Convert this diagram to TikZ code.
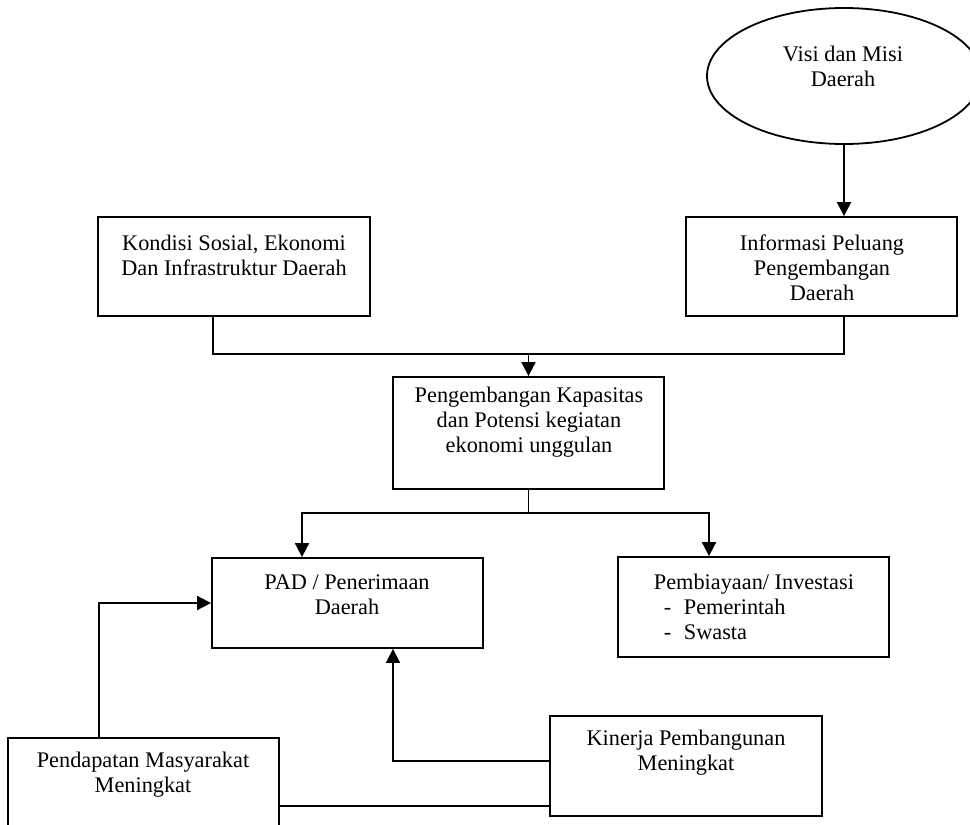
\documentclass[tikz,border=0pt]{standalone}
\usepackage{fontspec}
\setmainfont{Liberation Serif}
\usetikzlibrary{arrows.meta,shapes.geometric}
\begin{document}
\begin{tikzpicture}[x=1pt,y=-1pt,line width=1.8pt,
  box/.style={draw,rectangle,inner sep=0pt},
  oval/.style={draw,ellipse,inner sep=0pt},
  lbl/.style={align=center,font=\fontsize{22.3pt}{25pt}\selectfont,inner sep=0pt},
  arr/.style={-{Triangle[length=14pt,width=14pt]}}]
\useasboundingbox (0,0) rectangle (970,825);
\clip (0,0) rectangle (970,825);
% shapes
\node[oval,minimum width=274pt,minimum height=136pt] (visi) at (844,76) {};
\node[box,minimum width=272pt,minimum height=99pt] (kond) at (234,266.5) {};
\node[box,minimum width=271pt,minimum height=99pt] (info) at (821.5,266.5) {};
\node[box,minimum width=271pt,minimum height=112pt] (mid) at (528.5,433) {};
\node[box,minimum width=271pt,minimum height=90pt] (pad) at (347.5,603) {};
\node[box,minimum width=271pt,minimum height=100pt] (pemb) at (753.5,607) {};
\node[box,minimum width=272pt,minimum height=100pt] (kin) at (686,766) {};
\node[box,minimum width=271pt,minimum height=100pt] (pend) at (143.5,788) {};
% texts
\node[lbl] (visit) at (843,66) {Visi dan Misi\\Daerah};
\node[lbl] (kondt) at (234,255) {Kondisi Sosial, Ekonomi\\Dan Infrastruktur Daerah};
\node[lbl] (infot) at (822,268) {Informasi Peluang\\Pengembangan\\Daerah};
\node[lbl] (midt) at (529,422) {Pengembangan Kapasitas\\dan Potensi kegiatan\\ekonomi unggulan};
\node[lbl] (padt) at (347,595) {PAD / Penerimaan\\Daerah};
\node[lbl,align=left,anchor=west] (pembt) at (653,607) {Pembiayaan/ Investasi\\\hspace*{10pt}\makebox[20pt][l]{-}Pemerintah\\\hspace*{10pt}\makebox[20pt][l]{-}Swasta};
\node[lbl] (pendt) at (143,775) {Pendapatan Masyarakat\\Meningkat};
\node[lbl] (kint) at (686,753) {Kinerja Pembangunan\\Meningkat};
% connectors
\coordinate (j1) at (528.5,354);
\coordinate (j2) at (528.5,513);
\draw[arr] (visi.south) -- (visi.south |- info.north);
\draw ([xshift=-21pt]kond.south) |- (j1) -| ([xshift=22.5pt]info.south);
\draw[arr] (j1) -- (mid.north);
\draw (mid.south) -- (j2);
\draw[arr] (j2) -| ([xshift=-45.5pt]pad.north);
\draw[arr] (j2) -| ([xshift=-44.5pt]pemb.north);
\draw[arr] ([xshift=-44.5pt]pend.north) |- (pad.west);
\draw[arr] ([yshift=5pt]kin.west) -| ([xshift=45.5pt]pad.south);
\draw ([yshift=-18pt]pend.east) -- ([yshift=-18pt]pend.east -| kin.west);
\end{tikzpicture}
\end{document}
